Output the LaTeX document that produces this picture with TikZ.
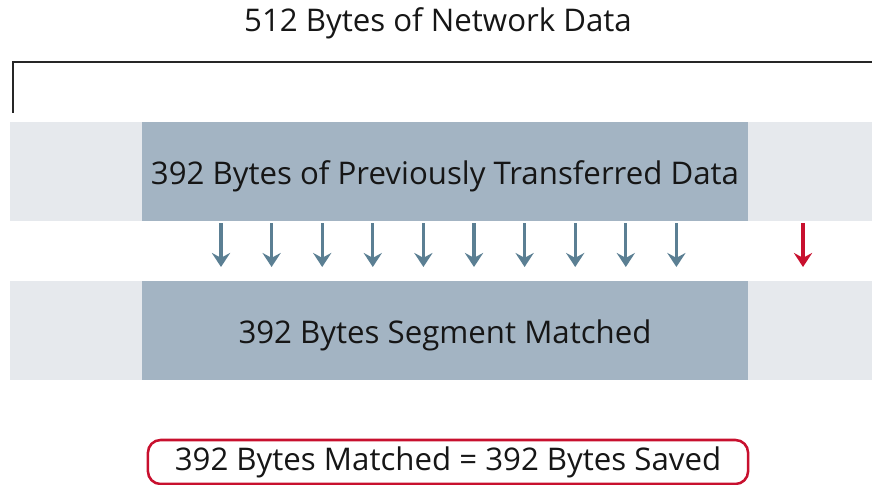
\documentclass[tikz,border=0pt]{standalone}
\usepackage{fontspec}
\setmainfont{Open Sans}
\usetikzlibrary{arrows.meta,positioning}
\definecolor{bandgray}{HTML}{E6E9ED}
\definecolor{segblue}{HTML}{A3B4C3}
\definecolor{arrowblue}{HTML}{5B7F93}
\definecolor{savedred}{HTML}{C8102E}
\definecolor{textdark}{HTML}{161616}

\tikzset{
  label text/.style={font=\fontsize{22.2}{26}\selectfont, text=textdark},
  segbox/.style={label text, fill=segblue, inner sep=0pt,
    text height=19pt, text depth=0pt,
    minimum width=15.15cm, minimum height=2.475cm},
  copyarrow/.style={arrowblue, line width=2.3pt,
    -{Stealth[length=10pt, width=13pt, inset=3.5pt]}},
  missarrow/.style={copyarrow, savedred},
  savedbox/.style={label text, draw=savedred, line width=1.8pt, rounded corners=9pt,
    minimum width=15cm, minimum height=1.1cm, inner sep=0pt}
}

\begin{document}
\begin{tikzpicture}[x=0.025cm, y=-0.025cm]
			%%%%% START %%%%%
			\useasboundingbox (0,0) rectangle (872,485);
			
			\node[label text] (title) at (438,23) {512 Bytes of Network Data};
			\draw[line width=1.5pt, color=black!85] (13,113) -- (13,62) -- (872,62);
			
			% light bands
			\fill[bandgray] (10,122) rectangle (872,221);
			\fill[bandgray] (10,281) rectangle (872,380);
			
			\node[segbox] (prevdata) at (445,171.5) {392 Bytes of Previously Transferred Data};
			\node[segbox] (matched) at (445,330.5) {392 Bytes Segment Matched};
			
			\foreach \i in {0,...,9} {
				\coordinate (from\i) at ({221+50.6*\i},223);
				\coordinate (to\i) at ({221+50.6*\i},267);
				\draw[copyarrow] (from\i) -- (to\i);
			}
			\coordinate (newfrom) at (803,223);
			\coordinate (newto) at (803,267);
			\draw[missarrow] (newfrom) -- (newto);
			
			\node[savedbox] (saved) at (448,462) {392 Bytes Matched = 392 Bytes Saved};
			
			%%%%% END %%%%%
\end{tikzpicture}
\end{document}
